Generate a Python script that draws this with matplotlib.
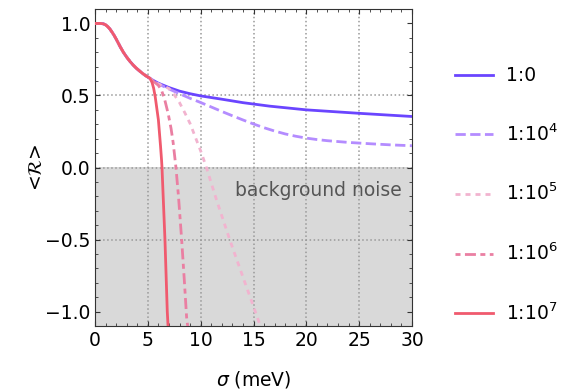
import matplotlib
matplotlib.use("Agg")
import matplotlib.pyplot as plt
from matplotlib.ticker import MultipleLocator

# shared low-sigma part (all ratios coincide here)
sigma_common = [0, 0.5, 0.8, 1.0, 1.2, 1.4, 1.6, 1.8, 2.0, 2.2, 2.4, 2.7, 3.0,
                3.3, 3.6, 3.9, 4.2, 4.5, 4.8, 5.0]
r_common = [1.0, 1.0, 0.997, 0.99, 0.978, 0.962, 0.941, 0.918, 0.892, 0.864,
            0.836, 0.798, 0.766, 0.737, 0.712, 0.69, 0.671, 0.653, 0.637, 0.628]

# tails for each signal:noise ratio
sigma_0 = [5.5, 6, 7, 8, 9, 10, 12, 14, 16.5, 20, 25, 30]
r_0 = [0.605, 0.585, 0.555, 0.53, 0.512, 0.497, 0.474, 0.45, 0.426, 0.40,
       0.376, 0.354]

sigma_4 = [5.5, 6, 7, 8, 9, 10, 11, 12, 13, 14, 15, 16, 17, 18, 19, 20, 21,
           22, 24, 26, 28, 30]
r_4 = [0.60, 0.58, 0.545, 0.512, 0.48, 0.451, 0.42, 0.389, 0.359, 0.33, 0.302,
       0.276, 0.253, 0.233, 0.217, 0.204, 0.194, 0.186, 0.174, 0.165, 0.157,
       0.151]

sigma_5 = [5.5, 6, 6.5, 7, 7.5, 8, 8.5, 9, 9.5, 10, 10.5, 11.5, 12.77, 14,
           15, 15.6, 15.8]
r_5 = [0.602, 0.58, 0.565, 0.548, 0.505, 0.45, 0.38, 0.305, 0.21, 0.115, 0.01,
       -0.225, -0.505, -0.76, -0.965, -1.09, -1.13]

sigma_6 = [5.5, 6.0, 6.3, 6.6, 6.93, 7.2, 7.4, 7.66, 7.9, 8.2, 8.45, 8.67,
           8.77, 8.85]
r_6 = [0.60, 0.57, 0.535, 0.47, 0.372, 0.27, 0.17, 0.0, -0.2, -0.5, -0.78,
       -1.04, -1.1, -1.2]

sigma_7 = [5.2, 5.4, 5.55, 5.7, 6.0, 6.2, 6.3, 6.34, 6.62, 6.84, 6.95]
r_7 = [0.62, 0.59, 0.55, 0.49, 0.33, 0.15, 0.05, 0.0, -0.5, -1.0, -1.15]

labels = ["1:0", "1:10$^4$", "1:10$^5$", "1:10$^6$", "1:10$^7$"]
colors = ["#6a45ff", "#b48cff", "#f2b3cf", "#ea7fa2", "#f05a6e"]
styles = ["-", (0, (3.7, 1.6)), (0, (1.8, 1.8)),
          (5.55, (3.95, 1.6, 1.8, 1.6)), "-"]
tails = [(sigma_0, r_0), (sigma_4, r_4), (sigma_5, r_5), (sigma_6, r_6),
         (sigma_7, r_7)]

FS = 13.5

fig = plt.figure(figsize=(5.66, 3.92), dpi=100)
ax = fig.add_axes([95 / 566, 1 - 326 / 392, 317 / 566, 317 / 392])

# background noise region
ax.axhspan(-1.1, 0, color="#d9d9d9", lw=0, zorder=0)
ax.text(29.0, -0.16, "background noise", ha="right", va="center",
        fontsize=FS, color="#555555", zorder=1)

# grid
for gx in [5, 10, 15, 20, 25]:
    ax.axvline(gx, color="#999999", ls=":", lw=1.1, zorder=1)
for gy in [-0.5, 0.0, 0.5]:
    ax.axhline(gy, color="#999999", ls=":", lw=1.1, zorder=1)

for (sx, ry), lab, col, st in zip(tails, labels, colors, styles):
    ax.plot(sigma_common + sx, r_common + ry, color=col, lw=2, ls=st,
            label=lab, zorder=3)

ax.set_xlim(0, 30)
ax.set_ylim(-1.1, 1.1)
ax.xaxis.set_major_locator(MultipleLocator(5))
ax.xaxis.set_minor_locator(MultipleLocator(1))
ax.yaxis.set_major_locator(MultipleLocator(0.5))
ax.yaxis.set_minor_locator(MultipleLocator(0.1))
ax.tick_params(which="both", direction="in", top=True, right=True,
               labelsize=FS, color="#333333")
ax.tick_params(which="major", length=3.5)
ax.tick_params(which="minor", length=2)
for sp in ax.spines.values():
    sp.set_color("#333333")

ax.set_xlabel(r"$\sigma$ (meV)", fontsize=FS, labelpad=14)
ax.set_ylabel(r"<$\mathcal{R}$>", fontsize=FS)
ax.yaxis.set_label_coords(-0.155, 0.5)

fig.legend(loc="center left", bbox_to_anchor=(455 / 566, 1 - 195 / 392),
           frameon=False, fontsize=FS, handlelength=2.0, handletextpad=0.7,
           labelspacing=2.03, borderpad=0, borderaxespad=0)

fig.savefig("out.png", dpi=100)
